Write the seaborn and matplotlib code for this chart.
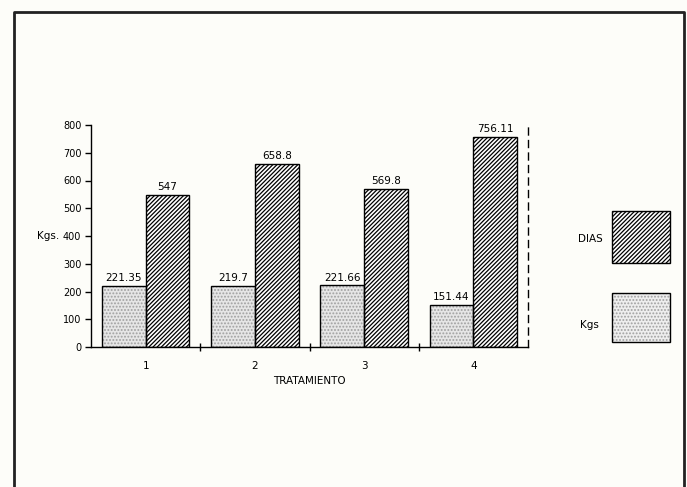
import matplotlib
matplotlib.use("Agg")
import matplotlib.pyplot as plt
from matplotlib.patches import Rectangle
from matplotlib.lines import Line2D
import pandas as pd
import seaborn as sns

tratamientos = ["1", "2", "3", "4"]
kgs = [221.35, 219.7, 221.66, 151.44]
dias = [547, 658.8, 569.8, 756.11]
y_ticks = [0, 100, 200, 300, 400, 500, 600, 700, 800]

df = pd.DataFrame({
    "tratamiento": tratamientos * 2,
    "serie": ["Kgs"] * len(kgs) + ["DIAS"] * len(dias),
    "valor": kgs + dias,
})

sns.set_style("white")
plt.rcParams.update({
    "font.family": ["DejaVu Sans"],
    "hatch.linewidth": 0.9,
    "text.color": "black",
    "axes.labelcolor": "black",
    "xtick.color": "black",
    "ytick.color": "black",
})

BG = "#fdfdf9"
fig = plt.figure(figsize=(6.87, 4.87), dpi=100, facecolor=BG)
ax = fig.add_axes([91 / 687, 1 - 347 / 487, 437 / 687, 222 / 487])
ax.set_facecolor(BG)

sns.barplot(data=df, x="tratamiento", y="valor", hue="serie",
            hue_order=["Kgs", "DIAS"], order=tratamientos,
            palette={"Kgs": "#e6e6e6", "DIAS": "white"},
            edgecolor="black", linewidth=1, width=0.8, gap=0,
            legend=False, ax=ax)

kgs_bars, dias_bars = ax.containers[0], ax.containers[1]
for p in kgs_bars:
    p.set_hatch(".....")
    p.set_edgecolor("#a0a0a0")
    p.set_linewidth(0)
    ax.add_patch(Rectangle(p.get_xy(), p.get_width(), p.get_height(),
                           fill=False, ec="black", lw=1, zorder=3))
for p in dias_bars:
    p.set_hatch("////////")
    p.set_edgecolor("black")

for cont, vals in ((kgs_bars, kgs), (dias_bars, dias)):
    ax.bar_label(cont, labels=[f"{v:g}" for v in vals], padding=2, fontsize=7.5)

ax.set_xlim(-0.5, 3.5)
ax.set_ylim(0, 800)
ax.set_yticks(y_ticks)
ax.tick_params(axis="y", direction="out", length=4, width=1, labelsize=7,
               left=True, pad=3)
ax.tick_params(axis="x", which="major", length=0, labelsize=7.5, pad=10)
ax.set_xticks([0.5, 1.5, 2.5], minor=True)
ax.tick_params(axis="x", which="minor", direction="inout", length=6, width=1,
               bottom=True)

ax.set_xlabel("TRATAMIENTO", fontsize=7.5, labelpad=4)
ax.set_ylabel("Kgs.", rotation=0, fontsize=7.5, ha="center", va="center")
ax.yaxis.set_label_coords(-0.098, 0.5)

for s in ("left", "bottom"):
    ax.spines[s].set_color("black")
    ax.spines[s].set_linewidth(1)
ax.spines["top"].set_visible(False)
ax.spines["right"].set_color("black")
ax.spines["right"].set_linewidth(1)
ax.spines["right"].set_linestyle((0, (5, 4)))

# legend boxes on the right
fig.add_artist(Rectangle((612 / 687, 1 - 263 / 487), 58 / 687, 52 / 487,
                         transform=fig.transFigure, facecolor="white",
                         edgecolor="black", lw=1, hatch="////////"))
fig.add_artist(Rectangle((612 / 687, 1 - 342 / 487), 58 / 687, 49 / 487,
                         transform=fig.transFigure, facecolor="#eeeeee",
                         edgecolor="#a0a0a0", lw=0, hatch="....."))
fig.add_artist(Rectangle((612 / 687, 1 - 342 / 487), 58 / 687, 49 / 487,
                         transform=fig.transFigure, fill=False,
                         edgecolor="black", lw=1))
fig.text(578 / 687, 1 - 239 / 487, "DIAS", fontsize=7.5, va="center")
fig.text(580 / 687, 1 - 325 / 487, "Kgs", fontsize=7.5, va="center")

# frame around the page
bx = [14 / 687, 14 / 687, 684 / 687, 684 / 687]
by = [0, 1 - 12 / 487, 1 - 12 / 487, 0]
fig.add_artist(Line2D(bx, by, transform=fig.transFigure, color="#222222", lw=2))

fig.savefig("out.png", dpi=100, facecolor=BG)
